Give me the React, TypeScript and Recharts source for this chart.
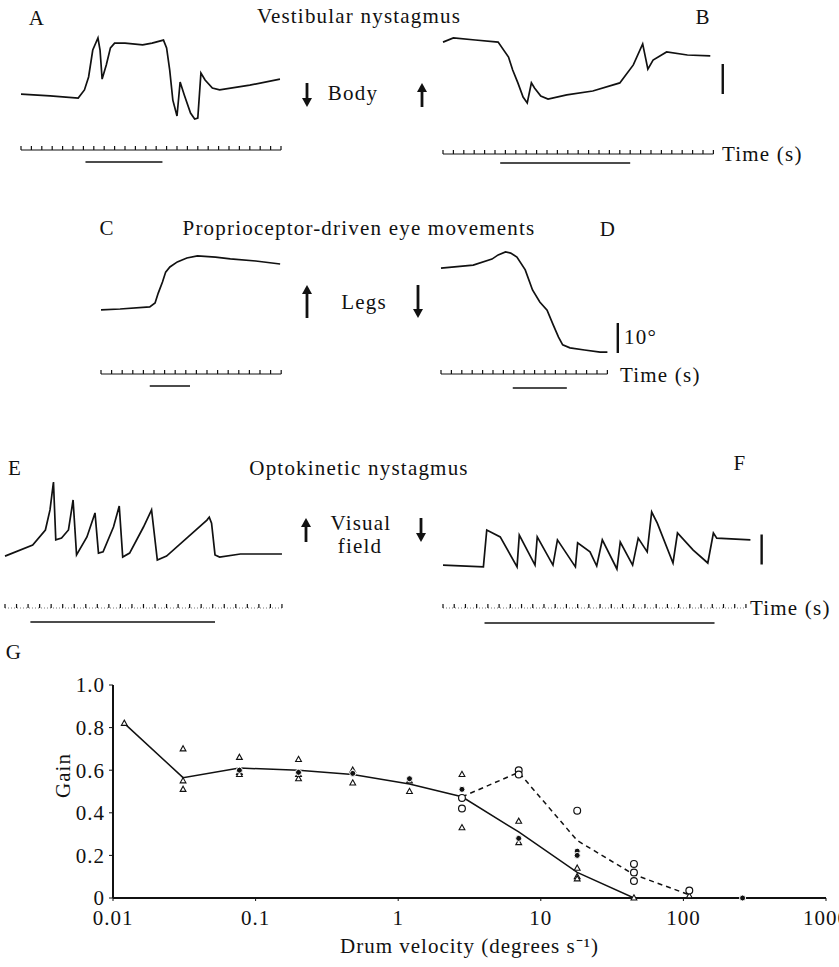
import React from 'react';
import { ComposedChart, LineChart, Line, Scatter, XAxis, YAxis } from 'recharts';

const SERIF = '"Liberation Serif", "Times New Roman", serif';
const INK = '#111';
const PX_PER_DEG = 3;

// eye position traces, [time (s), eye position (deg)]
const traceA = [
  [0, 1.3], [2.8, 0.7], [5.5, 0], [6.1, 2.7], [6.5, 7.0], [6.9, 16.0], [7.4, 20.0],
  [7.6, 16.0], [7.8, 6.3], [8.2, 11.0], [8.6, 16.7], [9.0, 18.3], [10.0, 18.3],
  [11.7, 17.7], [12.6, 18.3], [13.7, 19.3], [14.0, 16.7], [14.3, 9.3], [14.6, -0.7],
  [15.0, -6.0], [15.3, 5.3], [15.7, 1.0], [16.3, -5.0], [16.7, -7.0], [17.0, -6.7],
  [17.3, 8.3], [17.7, 6.0], [18.4, 3.3], [19.1, 2.7], [22.0, 4.3], [24.9, 6.3],
];
const traceB = [
  [0, 20.3], [1.0, 21.7], [3.1, 21.0], [5.3, 20.3], [6.3, 15.3], [6.7, 11.0], [7.2, 6.7],
  [7.7, 2.0], [8.1, 0], [8.5, 6.7], [8.8, 5.0], [9.4, 2.3], [10.1, 1.3], [11.9, 2.7],
  [14.4, 4.0], [17.0, 6.7], [18.3, 12.7], [19.2, 19.7], [19.7, 11.3], [20.2, 14.3],
  [21.5, 17.0], [23.5, 16.0], [25.7, 15.7],
];
const traceC = [
  [0, 0.7], [1.8, 1.0], [4.6, 1.7], [5.1, 3.0], [5.4, 6.3], [5.8, 10.0], [6.1, 13.3],
  [6.5, 15.0], [7.2, 16.7], [8.1, 18.0], [9.1, 18.7], [10.8, 18.3], [12.2, 17.7],
  [14.6, 17.0], [16.9, 16.0],
];
const traceD = [
  [0, 28.3], [3.1, 29.3], [4.9, 31.3], [5.5, 32.7], [6.2, 33.7], [6.7, 33.3], [7.3, 32.0],
  [8.1, 27.7], [8.8, 21.0], [9.5, 17.0], [10.2, 14.3], [10.8, 9.3], [11.3, 5.3],
  [11.7, 2.7], [12.4, 1.7], [13.8, 1.0], [15.3, 0.3], [16.0, 0.3],
];
const traceE = [
  [0, 1.3], [2.4, 5.0], [3.5, 10.0], [3.9, 16.7], [4.2, 26.0], [4.4, 6.7], [4.9, 7.3],
  [5.5, 10.0], [5.9, 20.0], [6.2, 1.7], [7.1, 7.7], [7.8, 15.7], [8.1, 2.3], [8.5, 2.7],
  [9.4, 11.0], [9.9, 18.0], [10.2, 1.0], [10.8, 2.3], [12.0, 11.0], [12.7, 16.7],
  [13.2, 0], [14.0, 1.3], [17.5, 13.3], [17.7, 14.3], [17.9, 12.3], [18.2, 1.7],
  [18.6, 1.0], [20.4, 2.0], [24.0, 2.0],
];
const traceF = [
  [0, 1.3], [3.6, 0.7], [3.9, 13.0], [5.1, 10.7], [6.6, 0.7], [6.8, 11.3], [8.2, 1.3],
  [8.4, 10.7], [9.8, 1.3], [10.2, 9.7], [11.8, 0.7], [12.0, 8.7], [13.1, 5.7], [13.7, 1.0],
  [14.2, 9.7], [15.5, 0], [15.8, 9.0], [16.9, 1.3], [17.4, 10.3], [18.2, 5.7], [18.6, 19.0],
  [19.1, 15.3], [20.5, 2.0], [20.9, 12.0], [22.3, 6.3], [23.6, 2.0], [24.1, 12.0],
  [24.4, 10.3], [27.4, 9.7],
];

// 10 degree calibration bars, [time (s), deg]
const calB = [[26.9, 3], [26.9, 13]];
const calD = [[17.0, 0], [17.0, 10]];
const calF = [[28.4, 1.5], [28.4, 11.5]];

// stimulus on / off (s)
const stimA = [6.2, 13.6];
const stimB = [5.5, 18.0];
const stimC = [4.6, 8.4];
const stimD = [6.9, 12.1];
const stimE = [2.2, 18.2];
const stimF = [3.7, 24.2];

// G: gain vs drum velocity, [velocity (deg/s), gain]
const gainTriangles = [
  [0.012, 0.82], [0.031, 0.7], [0.031, 0.55], [0.031, 0.51], [0.077, 0.66], [0.077, 0.59],
  [0.077, 0.58], [0.2, 0.65], [0.2, 0.58], [0.2, 0.56], [0.48, 0.6], [0.48, 0.54],
  [1.2, 0.55], [1.2, 0.5], [2.8, 0.58], [2.8, 0.33], [7, 0.36], [7, 0.26], [18, 0.14],
  [18, 0.1], [18, 0.09], [45, 0], [110, 0.01],
];
const gainDots = [
  [0.077, 0.6], [0.2, 0.59], [0.48, 0.585], [1.2, 0.56], [2.8, 0.51], [7, 0.28],
  [18, 0.22], [18, 0.2], [260, 0],
];
const gainRings = [
  [2.8, 0.47], [2.8, 0.42], [7, 0.6], [7, 0.58], [18, 0.41], [45, 0.16], [45, 0.12],
  [45, 0.08], [110, 0.035],
];
const solidMean = [
  [0.012, 0.82], [0.031, 0.565], [0.077, 0.61], [0.2, 0.6], [0.48, 0.58], [1.2, 0.535],
  [2.8, 0.475], [7, 0.31], [18, 0.12], [45, 0], [110, 0], [260, 0], [900, 0],
];
const dashedMean = [[2.8, 0.475], [7, 0.59], [18, 0.27], [45, 0.11], [110, 0.015]];

const velocityTicks = [0.01, 0.1, 1, 10, 100, 1000];
const velocityLabels = ['0.01', '0.1', '1', '10', '100', '1000'];
const gainTicks = [0, 0.2, 0.4, 0.6, 0.8, 1.0];
const gainLabels = ['0', '0.2', '0.4', '0.6', '0.8', '1.0'];

const pts = (arr) => arr.map(([t, y]) => ({ t, y }));
const gpts = (arr) => arr.map(([v, g]) => ({ v, g }));
const seconds = (n) => Array.from({ length: n + 1 }, (_, i) => i);

function Txt({ x, y, children, center = false, size = 21, spacing = 1.2 }) {
  return (
    <div
      style={{
        position: 'absolute', left: x, top: y,
        transform: center ? 'translate(-50%,-50%)' : 'translateY(-50%)', fontFamily: SERIF,
        fontSize: size, letterSpacing: spacing, lineHeight: 1, whiteSpace: 'nowrap', color: INK,
      }}
    >
      {children}
    </div>
  );
}

function Arrow({ x, y1, y2, up }) {
  const h = y2 - y1;
  const head = up ? `1,9 6,0 11,9` : `1,${h - 9} 6,${h} 11,${h - 9}`;
  return (
    <svg style={{ position: 'absolute', left: x - 6, top: y1 }} width={12} height={h}>
      <rect x={4.6} y={up ? 7 : 0} width={2.8} height={h - 7} fill={INK} />
      <polygon points={head} fill={INK} />
    </svg>
  );
}

function Trace({ left, top, pxPerSec, xMax, yMin, yMax, data, cal }) {
  return (
    <div style={{ position: 'absolute', left, top }}>
      <LineChart
        width={xMax * pxPerSec}
        height={(yMax - yMin) * PX_PER_DEG}
        margin={{ top: 0, right: 0, bottom: 0, left: 0 }}
      >
        <XAxis type="number" dataKey="t" domain={[0, xMax]} hide />
        <YAxis type="number" domain={[yMin, yMax]} hide />
        <Line data={pts(data)} dataKey="y" type="linear" stroke={INK} strokeWidth={1.7}
          dot={false} isAnimationActive={false} />
        {cal && (
          <Line data={pts(cal)} dataKey="y" stroke={INK} strokeWidth={2.4}
            dot={false} isAnimationActive={false} />
        )}
      </LineChart>
    </div>
  );
}

function Ruler({ left, axisY, pxPerSec, span, stim, gap, dotted = false }) {
  return (
    <div style={{ position: 'absolute', left, top: axisY - 6 }}>
      <LineChart width={span * pxPerSec} height={6 + gap + 3} margin={{ top: 0, right: 0, bottom: 3, left: 0 }}>
        <XAxis
          type="number" dataKey="t" orientation="top" domain={[0, span]} ticks={seconds(span)}
          interval={0} height={6} tickSize={4} tickFormatter={() => ''}
          axisLine={{ stroke: dotted ? '#777' : INK, strokeWidth: 1, strokeDasharray: dotted ? '1 2' : undefined }}
          tickLine={{ stroke: INK, strokeWidth: 1.2 }}
        />
        <YAxis type="number" domain={[0, 1]} hide />
        <Line data={stim.map((t) => ({ t, s: 0 }))} dataKey="s" stroke={INK} strokeWidth={1.6}
          dot={false} isAnimationActive={false} />
      </LineChart>
    </div>
  );
}

const Tri = ({ cx, cy }) => (
  <path d={`M${cx},${cy - 3.2}L${cx + 2.9},${cy + 2}L${cx - 2.9},${cy + 2}Z`} fill="#fff" stroke={INK} strokeWidth={1.1} />
);
const Ring = ({ cx, cy }) => <circle cx={cx} cy={cy} r={3.4} fill="#fff" stroke={INK} strokeWidth={1.2} />;
const Dot = ({ cx, cy }) => <circle cx={cx} cy={cy} r={3} fill={INK} stroke="#fff" strokeWidth={1} />;

function GainChart() {
  const tick = { fontFamily: SERIF, fontSize: 21, fill: INK, letterSpacing: 1 };
  return (
    <div style={{ position: 'absolute', left: 0, top: 650 }}>
      <ComposedChart width={839} height={317} margin={{ top: 35, right: 13, bottom: 0, left: 13 }}>
        <XAxis
          type="number" dataKey="v" scale="log" domain={[0.01, 1000]} ticks={velocityTicks}
          interval={0} height={69} tickSize={3} tickMargin={9} tick={tick}
          tickFormatter={(v) => velocityLabels[velocityTicks.indexOf(v)]}
          axisLine={{ stroke: INK, strokeWidth: 2 }} tickLine={{ stroke: INK }}
          label={{
            value: 'Drum velocity (degrees s⁻¹)', position: 'insideTop', offset: 40,
            style: { fontFamily: SERIF, fontSize: 21, fill: INK, letterSpacing: 1 },
          }}
        />
        <YAxis
          type="number" dataKey="g" domain={[0, 1]} ticks={gainTicks} interval={0} width={100}
          tickSize={4} tickMargin={4} tick={tick}
          tickFormatter={(g) => gainLabels[gainTicks.indexOf(g)]}
          axisLine={{ stroke: INK, strokeWidth: 2 }} tickLine={{ stroke: INK }}
          label={{
            value: 'Gain', angle: -90, position: 'center', dy: -16,
            style: { fontFamily: SERIF, fontSize: 21, fill: INK, letterSpacing: 1 },
          }}
        />
        <Line data={gpts(solidMean)} dataKey="g" stroke={INK} strokeWidth={1.5} dot={false} isAnimationActive={false} />
        <Line data={gpts(dashedMean)} dataKey="g" stroke={INK} strokeWidth={1.5} strokeDasharray="5 4"
          dot={false} isAnimationActive={false} />
        <Scatter data={gpts(gainTriangles)} dataKey="g" shape={Tri} isAnimationActive={false} />
        <Scatter data={gpts(gainRings)} dataKey="g" shape={Ring} isAnimationActive={false} />
        <Scatter data={gpts(gainDots)} dataKey="g" shape={Dot} isAnimationActive={false} />
      </ComposedChart>
    </div>
  );
}

export default function App() {
  return (
    <div style={{ position: 'relative', width: 839, height: 967, overflow: 'hidden', background: '#fff' }}>
      <style>{'body{margin:0}.recharts-surface{overflow:visible}'}</style>

      <Txt x={37} y={18} center>A</Txt>
      <Txt x={359} y={16} center>Vestibular nystagmus</Txt>
      <Txt x={703} y={17} center>B</Txt>
      <Trace left={21} top={32} pxPerSec={10.4} xMax={25} yMin={-10} yMax={22} data={traceA} />
      <Trace left={443} top={31} pxPerSec={10.4} xMax={27.5} yMin={-3} yMax={24} data={traceB} cal={calB} />
      <Arrow x={307} y1={83} y2={107} />
      <Txt x={353} y={93} center>Body</Txt>
      <Arrow x={422} y1={83} y2={107} up />
      <Ruler left={21} axisY={150} pxPerSec={10.4} span={25} stim={stimA} gap={12} />
      <Ruler left={443} axisY={154} pxPerSec={10.4} span={26} stim={stimB} gap={9} />
      <Txt x={722} y={154}>Time (s)</Txt>

      <Txt x={107} y={228} center>C</Txt>
      <Txt x={359} y={228} center>Proprioceptor-driven eye movements</Txt>
      <Txt x={608} y={229} center>D</Txt>
      <Trace left={101} top={246} pxPerSec={10.6} xMax={17} yMin={-2} yMax={22} data={traceC} />
      <Trace left={441} top={242} pxPerSec={10.4} xMax={17.5} yMin={-3} yMax={37} data={traceD} cal={calD} />
      <Arrow x={307} y1={285} y2={318} up />
      <Txt x={364} y={302} center>Legs</Txt>
      <Arrow x={418} y1={285} y2={318} />
      <Txt x={624} y={337}>10°</Txt>
      <Ruler left={101} axisY={374} pxPerSec={10.6} span={17} stim={stimC} gap={12} />
      <Ruler left={441} axisY={374} pxPerSec={10.4} span={16} stim={stimD} gap={14} />
      <Txt x={620} y={375}>Time (s)</Txt>

      <Txt x={15} y={468} center>E</Txt>
      <Txt x={359} y={468} center>Optokinetic nystagmus</Txt>
      <Txt x={740} y={463} center>F</Txt>
      <Trace left={5} top={476} pxPerSec={11.54} xMax={24} yMin={-3} yMax={28} data={traceE} />
      <Trace left={443} top={503} pxPerSec={11.22} xMax={29} yMin={-3} yMax={22} data={traceF} cal={calF} />
      <Arrow x={306} y1={518} y2={542} up />
      <Txt x={361} y={523} center>Visual</Txt>
      <Txt x={360} y={546} center>field</Txt>
      <Arrow x={421} y1={518} y2={542} />
      <Ruler left={5} axisY={608} pxPerSec={11.54} span={24} stim={stimE} gap={14} dotted />
      <Ruler left={443} axisY={608} pxPerSec={11.22} span={27} stim={stimF} gap={15} dotted />
      <Txt x={750} y={608}>Time (s)</Txt>

      <Txt x={14} y={652} center>G</Txt>
      <GainChart />
    </div>
  );
}
